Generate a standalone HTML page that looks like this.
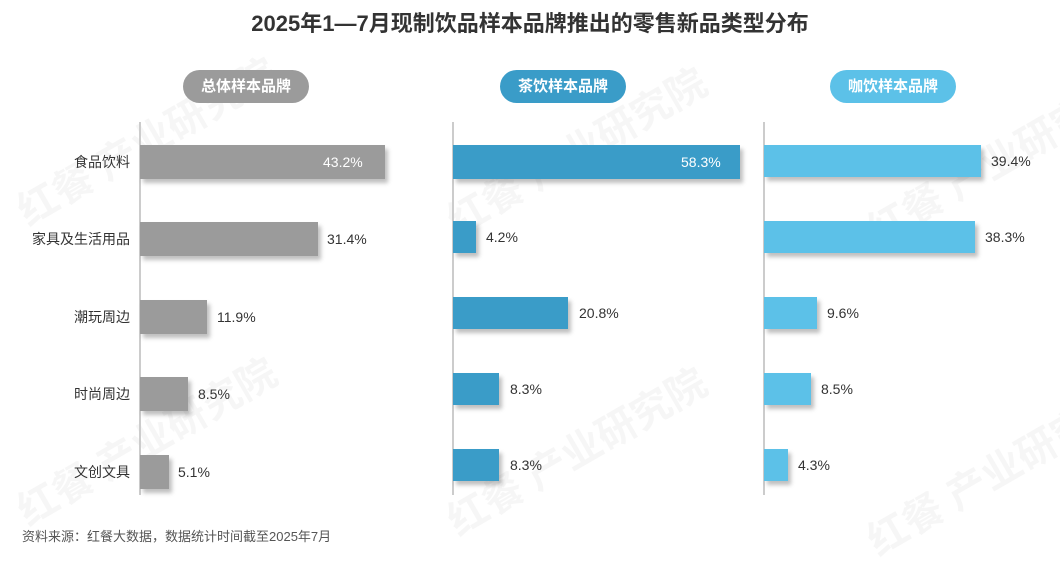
<!DOCTYPE html>
<html><head><meta charset="utf-8"><style>
body{margin:0;width:1060px;height:545px;background:#fff;position:relative;overflow:hidden;font-family:"Liberation Sans","Noto Sans CJK SC",sans-serif;}
.t{position:absolute;left:0;width:1060px;top:6px;text-align:center;font-size:22px;font-weight:bold;color:#333;}
.pill{position:absolute;top:70px;height:33px;width:126px;border-radius:17px;color:#fff;font-size:15px;font-weight:bold;text-align:center;line-height:33px;}
.ax{position:absolute;top:122px;height:373px;width:2px;background:#ccc;}
.b{position:absolute;height:34px;box-shadow:3px 4px 4px rgba(0,0,0,0.25);}
.l{position:absolute;font-size:14px;color:#333;line-height:34px;}
.c{position:absolute;font-size:14px;color:#333;line-height:34px;text-align:right;width:120px;}
.src{position:absolute;left:22px;top:526px;font-size:13px;color:#555;}
.wm{position:absolute;font-size:40px;font-weight:bold;color:rgba(0,0,0,0.035);transform:rotate(-30deg);white-space:nowrap;}
</style></head><body>
<div class="t">2025年1—7月现制饮品样本品牌推出的零售新品类型分布</div>
<div class="wm" style="left:0;top:110px">红餐 产业研究院</div>
<div class="wm" style="left:0;top:410px">红餐 产业研究院</div>
<div class="wm" style="left:430px;top:120px">红餐 产业研究院</div>
<div class="wm" style="left:430px;top:420px">红餐 产业研究院</div>
<div class="wm" style="left:850px;top:130px">红餐 产业研究院</div>
<div class="wm" style="left:850px;top:440px">红餐 产业研究院</div>
<div class="pill" style="left:183px;background:#9b9b9b">总体样本品牌</div>
<div class="pill" style="left:500px;background:#3a9cc8">茶饮样本品牌</div>
<div class="pill" style="left:830px;background:#5cc1e8">咖饮样本品牌</div>

<div class="ax" style="left:139px"></div>
<div class="c" style="left:10px;top:145px">食品饮料</div>
<div class="c" style="left:10px;top:222px">家具及生活用品</div>
<div class="c" style="left:10px;top:300px">潮玩周边</div>
<div class="c" style="left:10px;top:377px">时尚周边</div>
<div class="c" style="left:10px;top:455px">文创文具</div>
<div class="b" style="left:140px;top:145px;width:245px;background:#9b9b9b"></div>
<div class="l" style="left:323px;top:145px;color:#fff">43.2%</div>
<div class="b" style="left:140px;top:222px;width:178px;background:#9b9b9b"></div>
<div class="l" style="left:327px;top:222px">31.4%</div>
<div class="b" style="left:140px;top:300px;width:67px;background:#9b9b9b"></div>
<div class="l" style="left:217px;top:300px">11.9%</div>
<div class="b" style="left:140px;top:377px;width:48px;background:#9b9b9b"></div>
<div class="l" style="left:198px;top:377px">8.5%</div>
<div class="b" style="left:140px;top:455px;width:29px;background:#9b9b9b"></div>
<div class="l" style="left:178px;top:455px">5.1%</div>

<div class="ax" style="left:452px"></div>
<div class="b" style="left:453px;top:145px;width:287px;background:#3a9cc8"></div>
<div class="l" style="left:681px;top:145px;color:#fff">58.3%</div>
<div class="b" style="left:453px;top:221px;width:23px;background:#3a9cc8;height:32px"></div>
<div class="l" style="left:486px;top:220px">4.2%</div>
<div class="b" style="left:453px;top:297px;width:115px;background:#3a9cc8;height:32px"></div>
<div class="l" style="left:579px;top:296px">20.8%</div>
<div class="b" style="left:453px;top:373px;width:46px;background:#3a9cc8;height:32px"></div>
<div class="l" style="left:510px;top:372px">8.3%</div>
<div class="b" style="left:453px;top:449px;width:46px;background:#3a9cc8;height:32px"></div>
<div class="l" style="left:510px;top:448px">8.3%</div>

<div class="ax" style="left:763px"></div>
<div class="b" style="left:764px;top:145px;width:217px;background:#5cc1e8;height:32px"></div>
<div class="l" style="left:991px;top:144px">39.4%</div>
<div class="b" style="left:764px;top:221px;width:211px;background:#5cc1e8;height:32px"></div>
<div class="l" style="left:985px;top:220px">38.3%</div>
<div class="b" style="left:764px;top:297px;width:53px;background:#5cc1e8;height:32px"></div>
<div class="l" style="left:827px;top:296px">9.6%</div>
<div class="b" style="left:764px;top:373px;width:47px;background:#5cc1e8;height:32px"></div>
<div class="l" style="left:821px;top:372px">8.5%</div>
<div class="b" style="left:764px;top:449px;width:24px;background:#5cc1e8;height:32px"></div>
<div class="l" style="left:798px;top:448px">4.3%</div>

<div class="src">资料来源：红餐大数据，数据统计时间截至2025年7月</div>
</body></html>
